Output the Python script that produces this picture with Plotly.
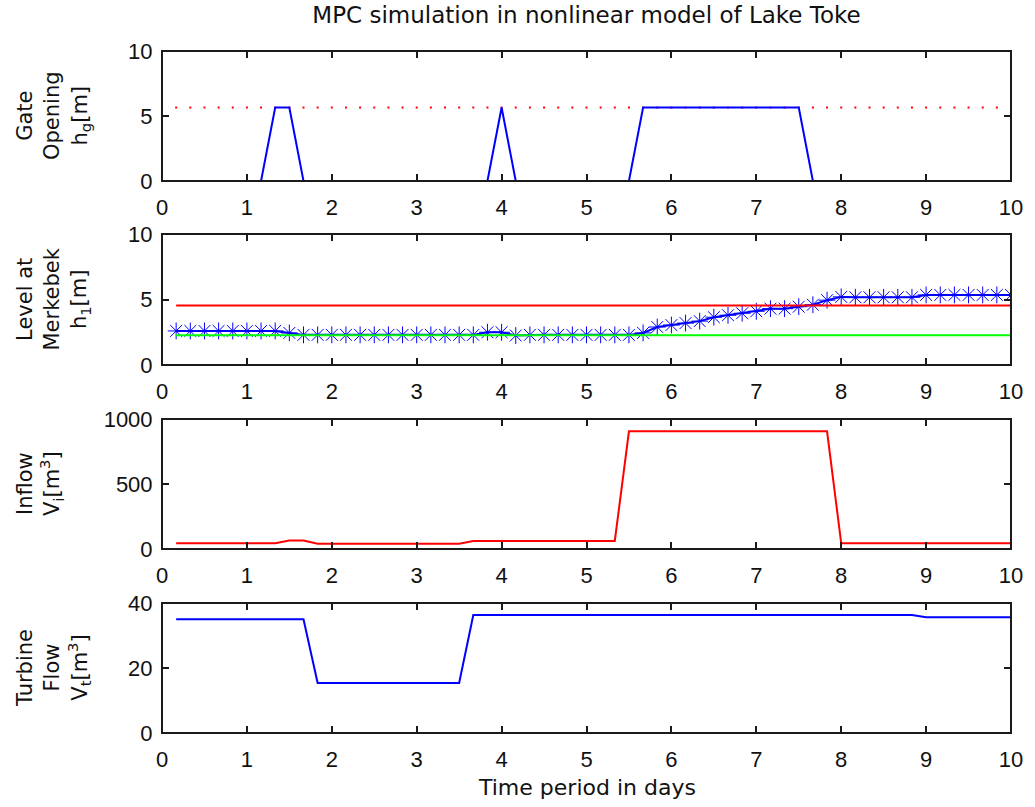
import plotly.graph_objects as go
from plotly.subplots import make_subplots

# Sample instants of the simulation (days, 4-hour steps)
days = [0.1667, 0.3333, 0.5, 0.6667, 0.8333, 1.0, 1.1667, 1.3333, 1.5, 1.6667,
        1.8333, 2.0, 2.1667, 2.3333, 2.5, 2.6667, 2.8333, 3.0, 3.1667, 3.3333,
        3.5, 3.6667, 3.8333, 4.0, 4.1667, 4.3333, 4.5, 4.6667, 4.8333, 5.0,
        5.1667, 5.3333, 5.5, 5.6667, 5.8333, 6.0, 6.1667, 6.3333, 6.5, 6.6667,
        6.8333, 7.0, 7.1667, 7.3333, 7.5, 7.6667, 7.8333, 8.0, 8.1667, 8.3333,
        8.5, 8.6667, 8.8333, 9.0, 9.1667, 9.3333, 9.5, 9.6667, 9.8333, 10.0]

# Gate opening h_g [m]
gate_opening = [0, 0, 0, 0, 0, 0, 0, 5.65, 5.65, 0,
                0, 0, 0, 0, 0, 0, 0, 0, 0, 0,
                0, 0, 0, 5.65, 0, 0, 0, 0, 0, 0,
                0, 0, 0, 5.65, 5.65, 5.65, 5.65, 5.65, 5.65, 5.65,
                5.65, 5.65, 5.65, 5.65, 5.65, 0, 0, 0, 0, 0,
                0, 0, 0, 0, 0, 0, 0, 0, 0, 0]
gate_max = 5.65

# Water level at Merkebek h_1 [m]
level = [2.6, 2.6, 2.6, 2.6, 2.6, 2.6, 2.6, 2.6, 2.45, 2.3,
         2.3, 2.3, 2.3, 2.3, 2.3, 2.3, 2.3, 2.3, 2.3, 2.3,
         2.3, 2.3, 2.5, 2.5, 2.25, 2.3, 2.3, 2.3, 2.3, 2.3,
         2.3, 2.3, 2.3, 2.45, 2.9, 3.05, 3.2, 3.35, 3.65, 3.8,
         3.95, 4.1, 4.3, 4.3, 4.45, 4.6, 4.95, 5.2, 5.17, 5.17,
         5.17, 5.17, 5.17, 5.35, 5.35, 5.35, 5.35, 5.35, 5.35, 5.35]
level_max = 4.55
level_min = 2.27

# Inflow V_i [m^3]
inflow = [45, 45, 45, 45, 45, 45, 45, 45, 65, 65,
          40, 40, 40, 40, 40, 40, 40, 40, 40, 40,
          40, 62, 62, 62, 62, 62, 62, 62, 62, 62,
          62, 62, 905, 905, 905, 905, 905, 905, 905, 905,
          905, 905, 905, 905, 905, 905, 905, 45, 45, 45,
          45, 45, 45, 45, 45, 45, 45, 45, 45, 45]

# Turbine flow V_t [m^3]
turbine = [35, 35, 35, 35, 35, 35, 35, 35, 35, 35,
           15.4, 15.4, 15.4, 15.4, 15.4, 15.4, 15.4, 15.4, 15.4, 15.4,
           15.4, 36.3, 36.3, 36.3, 36.3, 36.3, 36.3, 36.3, 36.3, 36.3,
           36.3, 36.3, 36.3, 36.3, 36.3, 36.3, 36.3, 36.3, 36.3, 36.3,
           36.3, 36.3, 36.3, 36.3, 36.3, 36.3, 36.3, 36.3, 36.3, 36.3,
           36.3, 36.3, 36.3, 35.6, 35.6, 35.6, 35.6, 35.6, 35.6, 35.6]

x_ticks = [0, 1, 2, 3, 4, 5, 6, 7, 8, 9, 10]
y_ranges = [[0, 10], [0, 10], [0, 1000], [0, 40]]
y_ticks = [[0, 5, 10], [0, 5, 10], [0, 500, 1000], [0, 20, 40]]
y_titles = ["Gate<br>Opening<br>h<sub>g</sub>[m]",
            "Level at<br>Merkebek<br>h<sub>1</sub>[m]",
            "Inflow<br>V<sub>i</sub>[m<sup>3</sup>]",
            "Turbine<br>Flow<br>V<sub>t</sub>[m<sup>3</sup>]"]

BLUE = "#0000FF"
RED = "#FF0000"
GREEN = "#00FF00"
FRAME = "#1a1a1a"
TEXT_FONT = "DejaVu Sans"
TICK_FONT = "Liberation Sans, Arial, sans-serif"

W, H = 1035, 807
M_L, M_R, M_T, M_B = 162, 18, 51, 74
plot_h = H - M_T - M_B
# top/bottom pixel rows of each panel's frame
panel_px = [(51, 181), (234, 365), (419, 549), (603, 733)]
domains = [[(H - M_B - b) / plot_h, (H - M_B - t) / plot_h] for t, b in panel_px]

fig = make_subplots(rows=4, cols=1, shared_xaxes=False, vertical_spacing=0.05)

# Panel 1: gate opening and its upper bound
fig.add_trace(go.Scatter(x=days, y=[gate_max] * len(days), mode="markers",
                         marker=dict(color=RED, size=2, symbol="square"),
                         hoverinfo="skip"), row=1, col=1)
fig.add_trace(go.Scatter(x=days, y=gate_opening, mode="lines",
                         line=dict(color=BLUE, width=2)), row=1, col=1)

# Panel 2: level with bounds
fig.add_trace(go.Scatter(x=days, y=level, mode="lines+markers",
                         line=dict(color=BLUE, width=2),
                         marker=dict(symbol="asterisk-open", size=14,
                                     line=dict(color=BLUE, width=1))),
              row=2, col=1)
fig.add_trace(go.Scatter(x=[days[0], days[-1]], y=[level_max, level_max],
                         mode="lines", line=dict(color=RED, width=2)),
              row=2, col=1)
fig.add_trace(go.Scatter(x=[days[0], days[-1]], y=[level_min, level_min],
                         mode="lines", line=dict(color=GREEN, width=2)),
              row=2, col=1)

# Panel 3: inflow
fig.add_trace(go.Scatter(x=days, y=inflow, mode="lines",
                         line=dict(color=RED, width=2)), row=3, col=1)

# Panel 4: turbine flow
fig.add_trace(go.Scatter(x=days, y=turbine, mode="lines",
                         line=dict(color=BLUE, width=2)), row=4, col=1)

axis_common = dict(showline=True, linecolor=FRAME, linewidth=1,
                   mirror="ticks", ticks="inside", ticklen=7, tickwidth=1.5,
                   tickcolor=FRAME, showgrid=False, zeroline=False,
                   tickfont=dict(family=TICK_FONT, size=22, color="#111"))

shapes = []
for i in range(4):
    r = i + 1
    fig.update_xaxes(range=[0, 10], tickvals=x_ticks, ticktext=[str(v) for v in x_ticks],
                     ticklabelstandoff=7, row=r, col=1, **axis_common)
    fig.update_yaxes(range=y_ranges[i], tickvals=y_ticks[i],
                     ticktext=[str(v) for v in y_ticks[i]],
                     domain=domains[i], ticklabelstandoff=4,
                     row=r, col=1, **axis_common)
    # box frame drawn over the data, like a boxed axes outline
    suffix = "" if r == 1 else str(r)
    shapes.append(dict(type="rect", xref=f"x{suffix} domain", yref=f"y{suffix} domain",
                       x0=0, x1=1, y0=0, y1=1, layer="above",
                       line=dict(color=FRAME, width=2), fillcolor="rgba(0,0,0,0)"))

annotations = []
title_shift = [-109, -109, -122, -109]
for i in range(4):
    d0, d1 = domains[i]
    annotations.append(dict(text=y_titles[i], xref="paper", yref="paper",
                            x=0, y=(d0 + d1) / 2, xshift=title_shift[i],
                            xanchor="center", yanchor="middle", textangle=-90,
                            showarrow=False, align="center",
                            font=dict(family=TEXT_FONT, size=21, color="#111")))
annotations.append(dict(text="Time period in days", xref="paper", yref="paper",
                        x=0.5, y=0, yshift=-54, xanchor="center", yanchor="middle",
                        showarrow=False,
                        font=dict(family=TEXT_FONT, size=22, color="#111")))

fig.update_layout(
    width=W, height=H,
    margin=dict(l=M_L, r=M_R, t=M_T, b=M_B),
    paper_bgcolor="white", plot_bgcolor="white",
    showlegend=False,
    title=dict(text="MPC simulation in nonlinear model of Lake Toke",
               x=0.5, xref="paper", xanchor="center",
               y=1 - 15 / H, yref="container", yanchor="middle",
               font=dict(family=TEXT_FONT, size=23, color="#111")),
    annotations=annotations,
    shapes=shapes,
)

fig.write_html("out.html")
